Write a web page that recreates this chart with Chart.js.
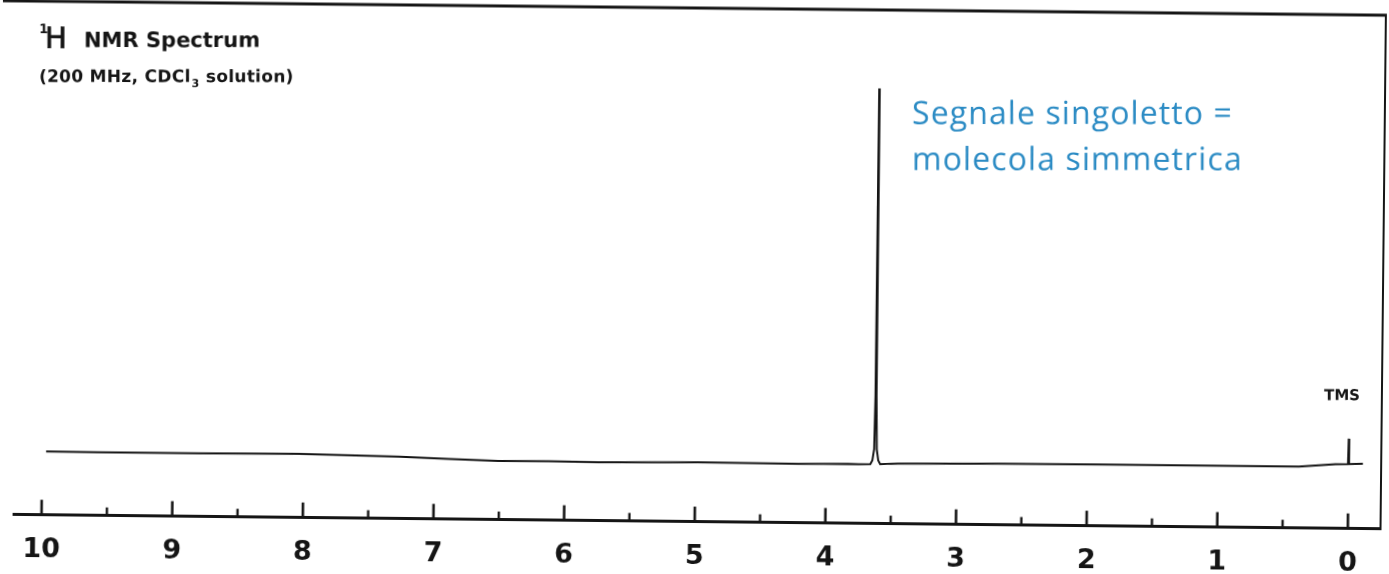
<!DOCTYPE html>
<html>
<head>
<meta charset="utf-8">
<script src="https://cdn.jsdelivr.net/npm/chart.js@4/dist/chart.umd.min.js"></script>
<style>
  html, body { margin: 0; padding: 0; background: #ffffff; overflow: hidden; }
  #wrap { width: 1389px; height: 574px; position: relative; }
  #c { position: absolute; left: 0; top: 0; transform: rotate(0.6deg); transform-origin: 694.5px 287px; }
</style>
</head>
<body>
<div id="wrap"><canvas id="c" width="1389" height="574"></canvas></div>
<script>
// ---- data ----
// chemical shift (ppm) of each sampled point of the trace
const shiftPpm = [
  9.97, 9.57, 8.80, 8.04, 7.27, 6.89, 6.51, 6.12, 5.74, 4.98, 4.21, 3.83, 3.75,
  3.66, 3.645, 3.632, 3.626, 3.622, 3.618, 3.612, 3.600, 3.585, 3.50, 3.45,
  2.68, 1.92, 1.15, 0.38, 0.10, 0.004, 0.0, -0.004, -0.11
];
// relative intensity of the trace at each shift
const intensity = [
  12.34, 12.32, 12.32, 12.42, 12.09, 11.74, 11.43, 11.48, 11.39, 11.60, 11.48, 11.58, 11.55,
  11.60, 12.30, 14.50, 25.0, 84.9, 25.0, 14.50, 12.30, 11.60, 11.70, 11.72,
  11.91, 11.95, 11.97, 11.97, 12.50, 12.55, 17.5, 12.55, 12.64
];
// axis ticks
const tickValues = [10, 9, 8, 7, 6, 5, 4, 3, 2, 1, 0];
const tickLabels = ['10', '9', '8', '7', '6', '5', '4', '3', '2', '1', '0'];
const minorTickValues = [9.5, 8.5, 7.5, 6.5, 5.5, 4.5, 3.5, 2.5, 1.5, 0.5];
// texts
const titleSup = '1';
const titleH = 'H';
const titleRest = 'NMR Spectrum';
const subtitleA = '(200 MHz, CDCl';
const subtitleSub = '3';
const subtitleB = ' solution)';
const refLabel = 'TMS';
const noteLines = ['Segnale singoletto =', 'molecola simmetrica'];

const THETA = 0.6 * Math.PI / 180;
const CX = 694.5, CY = 287;
function toCanvas(xr, yr) {
  const dx = xr - CX, dy = yr - CY;
  return [CX + dx * Math.cos(THETA) + dy * Math.sin(THETA), CY - dx * Math.sin(THETA) + dy * Math.cos(THETA)];
}
function levelText(ctx, xr, yr, fn) {
  const p = toCanvas(xr, yr);
  ctx.save();
  ctx.translate(p[0], p[1]);
  ctx.rotate(-THETA);
  fn(ctx);
  ctx.restore();
}

const INK = '#151515';

const decor = {
  id: 'decor',
  afterDraw(chart) {
    const ctx = chart.ctx;
    const a = chart.chartArea;
    const xs = chart.scales.x;
    ctx.save();
    ctx.strokeStyle = INK;
    ctx.lineCap = 'butt';
    // frame: top and right
    ctx.lineWidth = 3;
    ctx.beginPath(); ctx.moveTo(0, a.top - 1); ctx.lineTo(a.right + 1, a.top - 1); ctx.stroke();
    ctx.lineWidth = 2;
    ctx.beginPath(); ctx.moveTo(a.right, a.top - 1); ctx.lineTo(a.right, a.bottom + 1); ctx.stroke();
    // tick marks pointing up from the axis
    ctx.lineWidth = 2.6;
    tickValues.forEach(v => {
      const px = xs.getPixelForValue(v);
      ctx.beginPath(); ctx.moveTo(px, a.bottom); ctx.lineTo(px, a.bottom - 15); ctx.stroke();
    });
    ctx.lineWidth = 2.4;
    minorTickValues.forEach(v => {
      const px = xs.getPixelForValue(v);
      ctx.beginPath(); ctx.moveTo(px, a.bottom); ctx.lineTo(px, a.bottom - 8); ctx.stroke();
    });
    // title
    ctx.fillStyle = INK;
    ctx.textBaseline = 'alphabetic';
    levelText(ctx, 39, 33, c => { c.font = 'bold 13px "DejaVu Sans"'; c.fillText(titleSup, 0, 0); });
    levelText(ctx, 45, 48, c => { c.font = '500 29px "DejaVu Sans"'; c.lineWidth = 0.8; c.strokeStyle = INK; c.fillText(titleH, 0, 0); c.strokeText(titleH, 0, 0); });
    levelText(ctx, 84, 47, c => { c.font = 'bold 21px "DejaVu Sans"'; c.fillText(titleRest, 0, 0); });
    levelText(ctx, 39, 82, c => {
      c.font = 'bold 17px "DejaVu Sans"';
      try { c.letterSpacing = '0.3px'; } catch (e) {}
      c.fillText(subtitleA, 0, 0);
      let w = c.measureText(subtitleA).width;
      c.font = 'bold 11px "DejaVu Sans"';
      c.fillText(subtitleSub, w + 1, 5);
      w += c.measureText(subtitleSub).width + 1;
      c.font = 'bold 17px "DejaVu Sans"';
      c.fillText(subtitleB, w, 0);
    });
    // TMS label
    levelText(ctx, 1342, 400, c => {
      c.font = 'bold 15px "DejaVu Sans"';
      c.textAlign = 'center';
      c.fillText(refLabel, 0, 0);
    });
    // blue annotation
    levelText(ctx, 912, 124, c => {
      c.font = '32px "Open Sans"';
      c.fillStyle = '#2b8bc4';
      try { c.letterSpacing = '1.1px'; } catch (e) {}
      c.fillText(noteLines[0], 0, 0);
      c.fillText(noteLines[1], 0, 46);
    });
    ctx.restore();
  }
};

new Chart(document.getElementById('c'), {
  type: 'line',
  data: {
    datasets: [{
      data: shiftPpm.map((x, i) => ({ x: x, y: intensity[i] })),
      borderColor: INK,
      borderWidth: 2,
      pointRadius: 0,
      tension: 0,
      fill: false
    }]
  },
  options: {
    responsive: false,
    animation: false,
    devicePixelRatio: 1,
    layout: { padding: { left: 16, right: 6, top: 9, bottom: -18 } },
    plugins: { legend: { display: false }, tooltip: { enabled: false }, title: { display: false } },
    scales: {
      x: {
        type: 'linear',
        reverse: true,
        min: -0.25,
        max: 10.214,
        afterBuildTicks: s => { s.ticks = tickValues.map(v => ({ value: v })); },
        ticks: {
          autoSkip: false,
          maxRotation: 0,
          padding: 19,
          color: INK,
          font: { family: 'DejaVu Sans', weight: 'bold', size: 27 },
          callback: (v, i) => tickLabels[i]
        },
        grid: { display: false, drawTicks: false },
        border: { display: true, color: INK, width: 3 }
      },
      y: { display: false, min: 0, max: 100 }
    }
  },
  plugins: [decor]
});
</script>
</body>
</html>
